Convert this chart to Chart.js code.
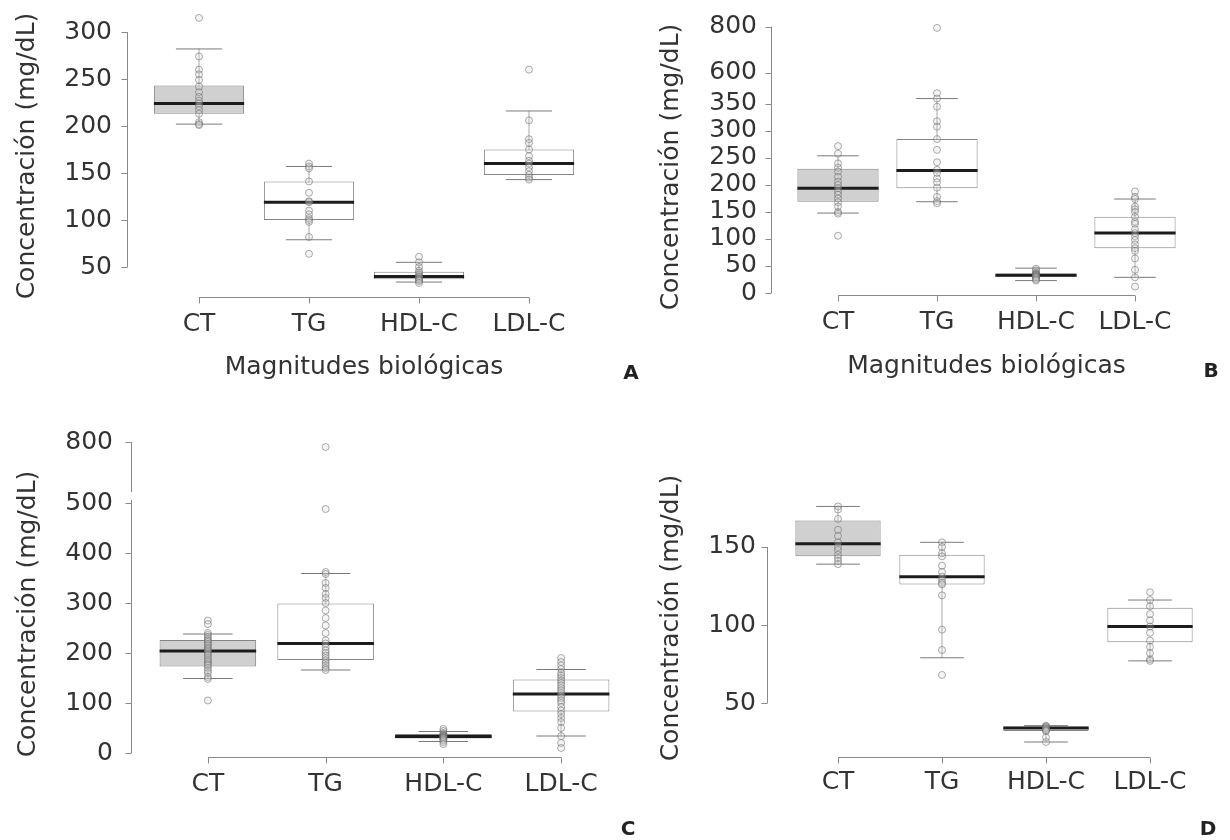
<!DOCTYPE html>
<html>
<head>
<meta charset="utf-8">
<script src="https://cdn.jsdelivr.net/npm/chart.js@4.4.0/dist/chart.umd.min.js"></script>
<style>
  body { margin: 0; background: #fff; }
  #wrap { position: relative; width: 1230px; height: 840px; overflow: hidden; }
  canvas { position: absolute; }
  .tag { position: absolute; font: bold 20px "DejaVu Sans", sans-serif; color: #222; transform: translate(-50%, -50%); }
</style>
</head>
<body>
<div id="wrap">
  <canvas id="pA" width="615" height="400" style="left:0;top:0"></canvas>
  <canvas id="pB" width="615" height="400" style="left:615px;top:0"></canvas>
  <canvas id="pC" width="625" height="420" style="left:0;top:420px"></canvas>
  <canvas id="pD" width="605" height="420" style="left:625px;top:420px"></canvas>
  <div class="tag" style="left:631px;top:372px">A</div>
  <div class="tag" style="left:1211px;top:370px">B</div>
  <div class="tag" style="left:628px;top:828px">C</div>
  <div class="tag" style="left:1208px;top:828px">D</div>
</div>
<script>
const categories = ['CT', 'TG', 'HDL-C', 'LDL-C'];

// panel A
const aQ1 = [213, 100, 37, 148];
const aMed = [224, 119, 40, 160];
const aQ3 = [243, 141, 45, 175];
const aLo = [202, 79, 34, 143];
const aHi = [282, 157, 55, 216];
const aCT = [315, 274, 260, 255, 249, 242, 236, 231, 227, 224, 221, 217, 213, 204, 202, 201];
const aTG = [160, 157, 155, 141, 129, 120, 119, 110, 106, 102, 100, 98, 82, 64];
const aHDL = [61, 55, 50, 46, 44, 42, 40, 39, 38, 37, 36, 35, 33];
const aLDL = [260, 206, 186, 182, 175, 168, 163, 160, 156, 152, 148, 145, 143];
const ticksA = [50, 100, 150, 200, 250, 300];

// panel B
const bQ1 = [169, 194, 30, 83];
const bMed = [194, 227, 33, 111];
const bQ3 = [230, 285, 36, 141];
const bLo = [148, 169, 23, 29];
const bHi = [254, 360, 46, 174];
const bCT = [272, 258, 240, 232, 225, 215, 206, 200, 194, 188, 182, 175, 168, 160, 150, 147, 106];
const bTG = [795, 370, 360, 345, 318, 308, 285, 265, 242, 228, 222, 212, 205, 195, 178, 170, 166];
const bHDL = [45, 42, 38, 36, 35, 34, 33, 32, 31, 30, 29, 27, 25, 23];
const bLDL = [188, 178, 174, 160, 155, 150, 141, 132, 128, 118, 111, 105, 98, 90, 83, 78, 64, 43, 29, 12];
const ticksB = [0, 50, 100, 150, 200, 250, 300, 350, 600, 800];

// panel C
const cQ1 = [173, 186, 29, 83];
const cMed = [204, 219, 33, 118];
const cQ3 = [226, 299, 38, 147];
const cLo = [149, 166, 23, 34];
const cHi = [238, 359, 43, 167];
const cCT = [265, 258, 240, 236, 232, 228, 225, 222, 218, 215, 211, 208, 205, 202, 198, 195, 190, 186, 182, 178, 175, 170, 165, 160, 152, 148, 105];
const cTG = [780, 488, 362, 358, 340, 330, 318, 310, 300, 285, 270, 255, 240, 225, 219, 212, 205, 200, 195, 190, 185, 180, 175, 170, 166];
const cHDL = [48, 44, 40, 38, 36, 35, 34, 33, 32, 31, 30, 29, 27, 25, 22, 18];
const cLDL = [190, 182, 175, 168, 160, 155, 150, 145, 140, 135, 130, 125, 120, 115, 110, 105, 100, 92, 85, 78, 70, 62, 50, 34, 20, 10];
const ticksC = [0, 100, 200, 300, 400, 500, 800];

// panel D
const dQ1 = [144, 126, 32, 89];
const dMed = [152, 131, 34, 99];
const dQ3 = [167, 145, 35, 111];
const dLo = [139, 79, 25, 77];
const dHi = [176, 153, 35.5, 116];
const dCT = [176, 174, 168, 161, 157, 153, 150, 148, 145, 143, 141, 139];
const dTG = [153, 150, 146, 144, 138, 134, 131, 129, 127, 126, 119, 97, 84, 68];
const dHDL = [35.5, 35, 34.5, 34, 33.5, 33, 32.5, 32, 28, 25];
const dLDL = [121, 116, 112, 107, 103, 99, 95, 90, 86, 82, 78, 77];
const ticksD = [50, 100, 150];

const boxFill = ['#d0d0d0', '#ffffff', '#ffffff', '#ffffff'];
const textColor = '#333';

Chart.defaults.font.family = '"DejaVu Sans", Verdana, sans-serif';
Chart.defaults.font.size = 25;
Chart.defaults.color = textColor;

// linear scale with an optional piecewise (broken) mapping
class BrokenScale extends Chart.LinearScale {
  static id = 'broken';
  static defaults = {};

  toAxis(v) {
    const k = this.options.knots;
    if (!k) return v;
    let i = 1;
    while (i < k.length - 1 && v > k[i][0]) i++;
    const [v0, p0] = k[i - 1];
    const [v1, p1] = k[i];
    return p0 + (v - v0) * (p1 - p0) / (v1 - v0);
  }

  fromAxis(p) {
    const k = this.options.knots;
    if (!k) return p;
    let i = 1;
    while (i < k.length - 1 && p > k[i][1]) i++;
    const [v0, p0] = k[i - 1];
    const [v1, p1] = k[i];
    return v0 + (p - p0) * (v1 - v0) / (p1 - p0);
  }

  getPixelForValue(value) {
    if (value === null || value === undefined) return NaN;
    const lo = this.toAxis(this.min);
    const hi = this.toAxis(this.max);
    return this.getPixelForDecimal((this.toAxis(value) - lo) / (hi - lo));
  }

  getValueForPixel(pixel) {
    const lo = this.toAxis(this.min);
    const hi = this.toAxis(this.max);
    return this.fromAxis(lo + this.getDecimalForPixel(pixel) * (hi - lo));
  }
}
Chart.register(BrokenScale);

// offset spines, tick marks and the rotated y title
const frame = {
  id: 'frame',
  beforeDatasetsDraw(chart, args, opts) {
    const { ctx, chartArea: area, scales: { x, y } } = chart;
    ctx.save();
    ctx.strokeStyle = '#8a8a8a';
    ctx.lineWidth = 1;
    ctx.beginPath();
    const sx = Math.round(area.left - opts.gap) + 0.5;
    opts.spans.forEach(([a, b]) => {
      ctx.moveTo(sx, y.getPixelForValue(a));
      ctx.lineTo(sx, y.getPixelForValue(b));
    });
    y.ticks.forEach(t => {
      const py = Math.round(y.getPixelForValue(t.value)) + 0.5;
      ctx.moveTo(sx - 6, py);
      ctx.lineTo(sx, py);
    });
    const sy = Math.round(area.bottom) + 0.5;
    ctx.moveTo(x.getPixelForValue(0), sy);
    ctx.lineTo(x.getPixelForValue(categories.length - 1), sy);
    categories.forEach((c, i) => {
      const px = Math.round(x.getPixelForValue(i)) + 0.5;
      ctx.moveTo(px, sy);
      ctx.lineTo(px, sy + 6);
    });
    ctx.stroke();

    ctx.translate(opts.titleX, opts.titleY);
    ctx.rotate(-Math.PI / 2);
    ctx.font = '25px "DejaVu Sans", Verdana, sans-serif';
    ctx.fillStyle = textColor;
    ctx.textAlign = 'center';
    ctx.textBaseline = 'middle';
    ctx.fillText(opts.title, 0, 0);
    ctx.restore();
  }
};

const band = ctx => ctx.chart.scales.x.width / categories.length;

function boxDatasets(q1, med, q3, lo, hi, pts) {
  const points = [];
  pts.forEach((list, i) => list.forEach(v => points.push({ x: categories[i], y: v })));
  const at = vals => vals.map((v, i) => ({ x: categories[i], y: v }));
  return [
    {
      type: 'line', data: points, showLine: false, clip: false, order: 0,
      pointRadius: 3.5, pointBorderWidth: 1,
      pointBorderColor: 'rgba(95,95,95,0.5)', pointBackgroundColor: 'rgba(210,210,210,0.25)'
    },
    {
      type: 'line', data: at(med), showLine: false, clip: false, order: 1,
      pointStyle: 'line', pointRadius: ctx => band(ctx) * 0.41,
      pointBorderWidth: 3, pointBorderColor: '#1c1c1c'
    },
    {
      type: 'line', data: at(lo).concat(at(hi)), showLine: false, clip: false, order: 2,
      pointStyle: 'line', pointRadius: ctx => band(ctx) * 0.21,
      pointBorderWidth: 1, pointBorderColor: '#7a7a7a'
    },
    {
      type: 'bar', data: q1.map((v, i) => [v, q3[i]]), order: 3, clip: false,
      backgroundColor: boxFill, borderColor: '#858585', borderWidth: 1, borderSkipped: false,
      barPercentage: 0.82, categoryPercentage: 1, grouped: false
    },
    {
      type: 'bar', data: lo.map((v, i) => [v, hi[i]]), order: 4, clip: false,
      backgroundColor: '#cccccc', barThickness: 1, grouped: false
    }
  ];
}

function makePanel(id, p) {
  new Chart(document.getElementById(id), {
    type: 'bar',
    data: { labels: categories, datasets: boxDatasets(...p.boxes) },
    options: {
      responsive: false,
      animation: false,
      events: [],
      layout: { padding: p.padding },
      plugins: {
        legend: { display: false },
        tooltip: { enabled: false },
        frame: { gap: p.gap, spans: p.spans, title: 'Concentración (mg/dL)', titleX: p.titleX, titleY: p.titleY }
      },
      scales: {
        x: {
          type: 'category', offset: true,
          grid: { display: false, drawTicks: false }, border: { display: false },
          ticks: { padding: p.xPad, color: textColor },
          title: { display: !!p.xTitle, text: p.xTitle || '', padding: 0, color: textColor },
          afterFit: s => { s.height = p.xHeight; s.paddingLeft = 0; s.paddingRight = 0; }
        },
        y: {
          type: 'broken', min: p.min, max: p.max, knots: p.knots,
          grid: { display: false, drawTicks: false }, border: { display: false },
          ticks: { padding: p.yPad, autoSkip: false, color: textColor },
          afterBuildTicks: s => { s.ticks = p.ticks.map(v => ({ value: v })); },
          afterFit: s => { s.width = p.yWidth; s.paddingTop = 0; s.paddingBottom = 0; }
        }
      }
    },
    plugins: [frame]
  });
}

makePanel('pA', {
  boxes: [aQ1, aMed, aQ3, aLo, aHi, [aCT, aTG, aHDL, aLDL]],
  ticks: ticksA, min: 18.1, max: 321.3, knots: null,
  padding: { left: 0, top: 12, right: 31, bottom: 18 },
  yWidth: 144, yPad: 32, gap: 17, spans: [[50, 300]],
  titleX: 27, titleY: 156,
  xTitle: 'Magnitudes biológicas', xHeight: 85, xPad: 12
});

makePanel('pB', {
  boxes: [bQ1, bMed, bQ3, bLo, bHi, [bCT, bTG, bHDL, bLDL]],
  ticks: ticksB, min: -3.7, max: 864, knots: [[0, 0], [380, 380], [600, 407.8], [800, 493]],
  padding: { left: 0, top: 12, right: 45.5, bottom: 19 },
  yWidth: 173.5, yPad: 31.5, gap: 17.5, spans: [[0, 800]],
  titleX: 56, titleY: 167,
  xTitle: 'Magnitudes biológicas', xHeight: 86, xPad: 12
});

makePanel('pC', {
  boxes: [cQ1, cMed, cQ3, cLo, cHi, [cCT, cTG, cHDL, cLDL]],
  ticks: ticksC, min: -8, max: 840, knots: [[0, 0], [506, 506], [600, 522], [800, 622]],
  padding: { left: 0, top: 12, right: 4, bottom: 33 },
  yWidth: 149, yPad: 36, gap: 18, spans: [[0, 506], [600, 800]],
  titleX: 28, titleY: 194,
  xTitle: null, xHeight: 50, xPad: 12
});

makePanel('pD', {
  boxes: [dQ1, dMed, dQ3, dLo, dHi, [dCT, dTG, dHDL, dLDL]],
  ticks: ticksD, min: 15.4, max: 223.7, knots: null,
  padding: { left: 0, top: 12, right: 28, bottom: 33 },
  yWidth: 161, yPad: 30, gap: 19, spans: [[50, 150]],
  titleX: 46, titleY: 198,
  xTitle: null, xHeight: 50, xPad: 10
});
</script>
</body>
</html>
